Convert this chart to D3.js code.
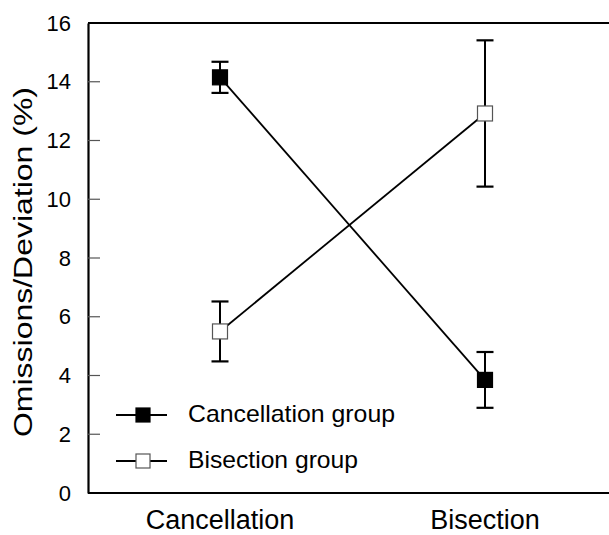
<!DOCTYPE html>
<html>
<head>
<meta charset="utf-8">
<script src="https://cdn.jsdelivr.net/npm/d3@7"></script>
<style>
  html, body { margin: 0; padding: 0; background: #fff; }
  svg { display: block; }
  text { font-family: "Liberation Sans", Arial, Helvetica, sans-serif; fill: #000; }
</style>
</head>
<body>
<svg id="chart" width="609" height="535"></svg>
<script>
// ---- data ----
const categories = ["Cancellation", "Bisection"];
const seriesNames = ["Cancellation group", "Bisection group"];
const cancellationGroupMean = [14.15, 3.85];
const cancellationGroupErr  = [0.53, 0.95];
const bisectionGroupMean    = [5.5, 12.92];
const bisectionGroupErr     = [1.02, 2.49];
const yTicks = [0, 2, 4, 6, 8, 10, 12, 14, 16];
const yLabel = "Omissions/Deviation (%)";

const series = [
  { name: seriesNames[0], mean: cancellationGroupMean, err: cancellationGroupErr, fill: "#000", stroke: "#000" },
  { name: seriesNames[1], mean: bisectionGroupMean, err: bisectionGroupErr, fill: "#fff", stroke: "#555" }
];

// ---- layout ----
const svg = d3.select("#chart");
const plotLeft = 88, plotTop = 23, plotBottom = 493, plotRight = 612;
const x = d3.scalePoint().domain(categories).range([220, 485]);
const y = d3.scaleLinear().domain([0, 16]).range([plotBottom, plotTop]);

// frame lines (top and bottom)
svg.append("line").attr("x1", plotLeft).attr("x2", plotRight).attr("y1", y(16)).attr("y2", y(16))
  .attr("stroke", "#000").attr("stroke-width", 2.2);
svg.append("line").attr("x1", plotLeft).attr("x2", plotRight).attr("y1", y(0)).attr("y2", y(0))
  .attr("stroke", "#000").attr("stroke-width", 2.2);

// y axis
const yAxis = d3.axisLeft(y).tickValues(yTicks).tickSize(0).tickPadding(17);
const gy = svg.append("g").attr("transform", `translate(${plotLeft},0)`).call(yAxis);
gy.select(".domain").attr("stroke", "#000").attr("stroke-width", 2.2);
gy.selectAll("text").attr("font-size", 22).style("font-family", "'Liberation Sans', Arial, sans-serif");
// inward tick marks
svg.append("g").selectAll("line").data(yTicks.filter(t => t > 0 && t < 16)).join("line")
  .attr("x1", plotLeft).attr("x2", plotLeft + 12)
  .attr("y1", d => y(d)).attr("y2", d => y(d))
  .attr("stroke", "#555").attr("stroke-width", 1.2);

// x labels
svg.append("g").selectAll("text").data(categories).join("text")
  .attr("x", d => x(d)).attr("y", 529)
  .attr("text-anchor", "middle").attr("font-size", 27)
  .text(d => d);

// y label
svg.append("text")
  .attr("transform", `translate(32,262) rotate(-90)`)
  .attr("text-anchor", "middle")
  .attr("font-size", 25)
  .attr("textLength", 350).attr("lengthAdjust", "spacingAndGlyphs")
  .text(yLabel);

// connecting lines
const line = d3.line().x((d, i) => x(categories[i])).y(d => y(d));
series.forEach(s => {
  svg.append("path").attr("d", line(s.mean)).attr("fill", "none")
    .attr("stroke", "#000").attr("stroke-width", 1.8);
});

// error bars
series.forEach(s => {
  const g = svg.append("g");
  s.mean.forEach((m, i) => {
    const cx = x(categories[i]);
    g.append("line").attr("x1", cx).attr("x2", cx)
      .attr("y1", y(m - s.err[i])).attr("y2", y(m + s.err[i]))
      .attr("stroke", "#000").attr("stroke-width", 2);
    [m - s.err[i], m + s.err[i]].forEach(v => {
      g.append("line").attr("x1", cx - 8.5).attr("x2", cx + 8.5)
        .attr("y1", y(v)).attr("y2", y(v))
        .attr("stroke", "#000").attr("stroke-width", 2.2);
    });
  });
});

// markers
const ms = 15;
series.forEach(s => {
  svg.append("g").selectAll("rect").data(s.mean).join("rect")
    .attr("x", (d, i) => x(categories[i]) - ms / 2)
    .attr("y", d => y(d) - ms / 2)
    .attr("width", ms).attr("height", ms)
    .attr("fill", s.fill).attr("stroke", s.stroke).attr("stroke-width", 1.2);
});

// legend
const legY = [415, 461];
const lg = svg.append("g");
series.forEach((s, i) => {
  lg.append("line").attr("x1", 116).attr("x2", 167).attr("y1", legY[i]).attr("y2", legY[i])
    .attr("stroke", "#000").attr("stroke-width", 1.8);
  lg.append("rect").attr("x", 143 - 7).attr("y", legY[i] - 7).attr("width", 14).attr("height", 14)
    .attr("fill", s.fill).attr("stroke", s.stroke).attr("stroke-width", 1.2);
  lg.append("text").attr("x", 188).attr("y", legY[i] + 7)
    .attr("font-size", 24)
    .attr("textLength", i === 0 ? 207 : 170).attr("lengthAdjust", "spacingAndGlyphs")
    .text(s.name);
});
</script>
</body>
</html>
